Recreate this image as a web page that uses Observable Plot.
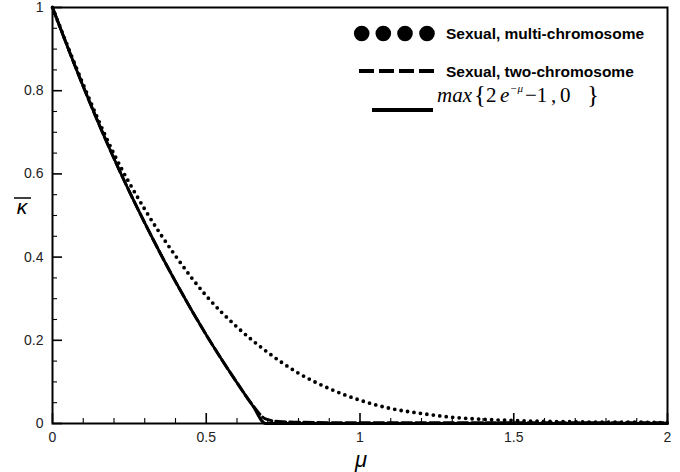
<!DOCTYPE html>
<html><head><meta charset="utf-8">
<script src="https://cdn.jsdelivr.net/npm/d3@7"></script>
<script src="https://cdn.jsdelivr.net/npm/@observablehq/plot@0.6"></script>
<style>body{margin:0;background:#fff} #chart{width:680px;height:472px}</style>
</head><body><div id="chart"></div>
<script>
// Sexual, multi-chromosome (dotted)
const muMulti    = [0, 0.1, 0.2, 0.3, 0.4, 0.5, 0.6, 0.7, 0.8, 0.9, 1.0, 1.1, 1.2, 1.3, 1.4, 1.5, 1.6, 1.7, 1.8, 1.9, 2.0];
const kappaMulti = [1, 0.815, 0.648, 0.515, 0.403, 0.307, 0.232, 0.171, 0.121, 0.084, 0.056, 0.036, 0.024, 0.015, 0.010, 0.007, 0.005, 0.004, 0.003, 0.003, 0.002];
// Sexual, two-chromosome (dashed)
const muTwo    = [0, 0.1, 0.2, 0.3, 0.4, 0.5, 0.6, 0.65, 0.69, 0.72, 0.75, 0.8, 0.9, 1.0, 1.2, 1.5, 2.0];
const kappaTwo = [1, 0.81, 0.637, 0.482, 0.341, 0.213, 0.098, 0.045, 0.012, 0.006, 0.004, 0.003, 0.002, 0.002, 0.002, 0.002, 0.002];
// max{2e^-mu - 1, 0} (solid)
const muMax    = [0, 0.1, 0.2, 0.3, 0.4, 0.5, 0.6, 0.65, 0.693, 1.0, 1.5, 2.0];
const kappaMax = [1, 0.81, 0.637, 0.482, 0.341, 0.213, 0.098, 0.044, 0, 0, 0, 0];

const xMajor = [0, 0.5, 1, 1.5, 2];
const xMinor = [0.1, 0.2, 0.3, 0.4, 0.6, 0.7, 0.8, 0.9, 1.1, 1.2, 1.3, 1.4, 1.6, 1.7, 1.8, 1.9];
const yMajor = [0, 0.2, 0.4, 0.6, 0.8, 1];
const yMinor = [0.05, 0.1, 0.15, 0.25, 0.3, 0.35, 0.45, 0.5, 0.55, 0.65, 0.7, 0.75, 0.85, 0.9, 0.95];

const legendLabels = ["Sexual, multi-chromosome", "Sexual, two-chromosome"];

const multi = muMulti.map((m, i) => ({mu: m, k: kappaMulti[i]}));
const two = muTwo.map((m, i) => ({mu: m, k: kappaTwo[i]}));
const theory = muMax.map((m, i) => ({mu: m, k: kappaMax[i]}));

const W = 680, H = 472, mL = 52, mR = 13, mT = 7, mB = 49;
const fH = H - mT - mB, fW = W - mL - mR;

const plot = Plot.plot({
  width: W, height: H,
  marginLeft: mL, marginRight: mR, marginTop: mT, marginBottom: mB,
  style: {fontFamily: "'Liberation Sans', Arial, sans-serif", fontSize: "14px", color: "#000", background: "#fff"},
  x: {domain: [0, 2]},
  y: {domain: [0, 1]},
  marks: [
    Plot.axisX(xMajor, {tickSize: 0, tickPadding: 9, tickFormat: d => String(d), label: null, fill: "#222"}),
    Plot.axisY(yMajor, {tickSize: 0, tickPadding: 9, tickFormat: d => String(d), label: null, fill: "#222"}),
    Plot.ruleX(xMajor, {x: d => d, insetTop: fH - 10, strokeWidth: 1.6}),
    Plot.ruleX(xMinor, {x: d => d, insetTop: fH - 5, strokeWidth: 1.1}),
    Plot.ruleY(yMajor, {y: d => d, insetRight: fW - 10, strokeWidth: 1.6}),
    Plot.ruleY(yMinor, {y: d => d, insetRight: fW - 5, strokeWidth: 1.1}),
    Plot.line(theory, {x: "mu", y: "k", stroke: "#000", strokeWidth: 2.8, curve: "monotone-x"}),
    Plot.line(two, {x: "mu", y: "k", stroke: "#000", strokeWidth: 3, strokeDasharray: "10 4", curve: "monotone-x"}),
    Plot.line(multi, {x: "mu", y: "k", stroke: "#000", strokeWidth: 3.8, strokeDasharray: "0 6.5", strokeLinecap: "round", curve: "monotone-x"}),
    Plot.frame({stroke: "#000", strokeWidth: 2})
  ]
});

const svg = d3.select(plot);
const sans = "'Liberation Sans', Arial, sans-serif";
// axis labels
svg.append("text").attr("x", 361).attr("y", 467).attr("text-anchor", "middle")
  .attr("font-family", sans).attr("font-style", "italic").attr("font-size", 22).text("μ");
svg.append("text").attr("x", 22).attr("y", 214).attr("text-anchor", "middle")
  .attr("font-family", sans).attr("font-style", "italic").attr("font-size", 21).text("κ");
svg.append("line").attr("x1", 14).attr("x2", 31).attr("y1", 198).attr("y2", 198).attr("stroke", "#000").attr("stroke-width", 1.5);

// legend
const lg = svg.append("g").attr("text-anchor", "start");
[361.7, 383.3, 405, 427].forEach(cx => lg.append("circle").attr("cx", cx).attr("cy", 33.5).attr("r", 7.8).attr("fill", "#000"));
lg.append("text").attr("x", 446).attr("y", 34).attr("dy", "0.35em").attr("font-weight", "bold").attr("text-anchor", "start")
  .attr("font-family", sans).attr("font-size", 15.5).text(legendLabels[0]);
lg.append("line").attr("x1", 359).attr("x2", 434).attr("y1", 71).attr("y2", 71).attr("stroke", "#000").attr("stroke-width", 4).attr("stroke-dasharray", "15 5");
lg.append("text").attr("x", 446).attr("y", 72).attr("dy", "0.35em").attr("font-weight", "bold").attr("text-anchor", "start")
  .attr("font-family", sans).attr("font-size", 15.5).text(legendLabels[1]);
lg.append("line").attr("x1", 372).attr("x2", 433).attr("y1", 110).attr("y2", 110).attr("stroke", "#000").attr("stroke-width", 4);
const ft = lg.append("text").attr("y", 102).attr("text-anchor", "start").attr("font-family", "'Liberation Serif', 'Times New Roman', serif").attr("font-size", 21);
ft.append("tspan").attr("x", 437).attr("font-style", "italic").text("max");
ft.append("tspan").attr("x", 474).attr("font-size", 25).attr("dy", 1).text("{");
ft.append("tspan").attr("x", 486).attr("dy", -1).text("2");
ft.append("tspan").attr("x", 500).attr("font-style", "italic").text("e");
ft.append("tspan").attr("x", 510).attr("dy", -10).attr("font-size", 11).attr("font-style", "italic").text("−μ");
ft.append("tspan").attr("x", 525).attr("dy", 10).text("−1");
ft.append("tspan").attr("x", 551).text(",");
ft.append("tspan").attr("x", 560).text("0");
ft.append("tspan").attr("x", 587).attr("font-size", 25).attr("dy", 1).text("}");

document.getElementById("chart").appendChild(plot);
</script>
</body></html>
